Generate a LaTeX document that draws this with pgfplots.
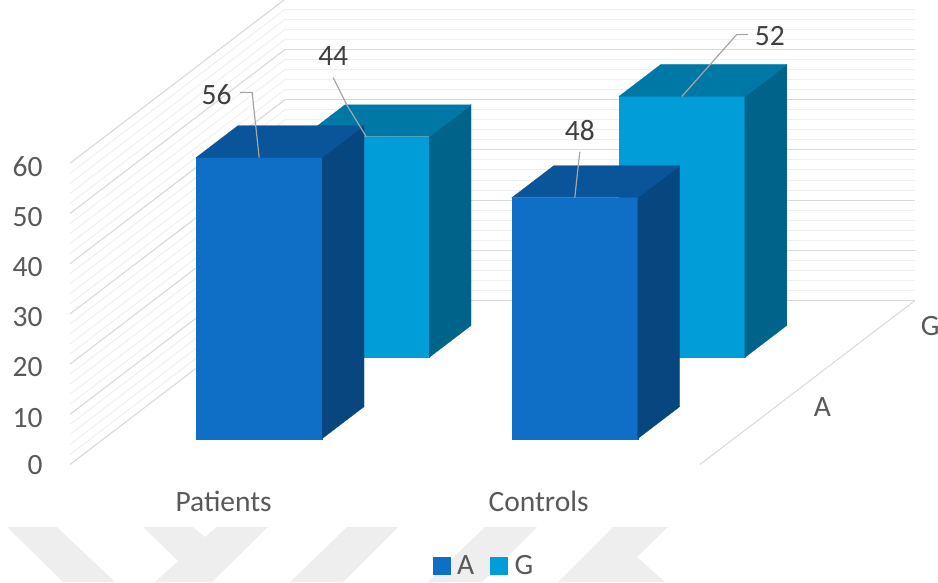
\documentclass[border=0pt]{standalone}
\usepackage{fontspec}
\setmainfont{Carlito}
\usepackage{pgfplots}
\pgfplotsset{compat=1.18}

\definecolor{barAfront}{HTML}{0F6FC6}
\definecolor{barAtop}{HTML}{0A5499}
\definecolor{barAside}{HTML}{084680}
\definecolor{barGfront}{HTML}{009DD9}
\definecolor{barGtop}{HTML}{0078A6}
\definecolor{barGside}{HTML}{00648A}
\definecolor{axistext}{HTML}{595959}
\definecolor{valuetext}{HTML}{404040}
\definecolor{leader}{HTML}{A6A6A6}
\definecolor{marktint}{HTML}{EEEEEE}

% One 3D column: x0, x1, y0, y1, value, series letter
\newcommand{\column}[6]{%
  \addplot3[forget plot, draw=bar#6front, line width=.2pt, fill=bar#6front]
    coordinates {(#1,#3,0) (#2,#3,0) (#2,#3,#5) (#1,#3,#5)} -- cycle;
  \addplot3[forget plot, draw=bar#6side, line width=.2pt, fill=bar#6side]
    coordinates {(#2,#3,0) (#2,#4,0) (#2,#4,#5) (#2,#3,#5)} -- cycle;
  \addplot3[forget plot, draw=bar#6top, line width=.2pt, fill=bar#6top]
    coordinates {(#1,#3,#5) (#2,#3,#5) (#2,#4,#5) (#1,#4,#5)} -- cycle;
}
\tikzset{valuelabel/.style={text=valuetext, font=\fontsize{29.5}{30}\selectfont, inner sep=0pt},
         leaderline/.style={draw=leader, line width=1.2pt}}

\begin{document}
\begin{tikzpicture}[x=1pt,y=1pt]
\useasboundingbox (0,0) rectangle (938,582);

% Pale emblem strip along the bottom edge
\fill[marktint] (7,55) -- (57,55) -- (115,0) -- (63,0) -- cycle;
\fill[marktint] (143,55) -- (193,55) -- (205,45) -- (217,55) -- (268,55)
  -- (212,0) -- (155,0) -- (178,21) -- cycle;
\fill[marktint] (347,55) -- (398,55) -- (343,0) -- (290,0) -- cycle;
\fill[marktint] (485,55) -- (537,55) -- (482,0) -- (428,0) -- cycle;
\fill[marktint] (613,55) -- (668,55) -- (637,25) -- (665,0) -- (558,0) -- cycle;

\begin{axis}[
  at={(70pt,117.5pt)}, anchor=origin,
  x={(3.15pt,0pt)}, y={(1.075pt,0.82pt)}, z={(0pt,5.02pt)},
  xmin=0, xmax=200, ymin=0, ymax=200, zmin=0, zmax=60,
  clip=false,
  axis line style={draw=none},
  tick style={draw=none},
  major tick length=0pt,
  xtick={50,150}, xticklabels={Patients,Controls},
  ytick={50,150}, yticklabels={A,G},
  ztick={0,10,...,60},
  minor z tick num=4,
  xmajorgrids=false, ymajorgrids=false,
  zmajorgrids=true, zminorgrids=true,
  major z grid style={draw=black!15, line width=1.1pt},
  minor z grid style={draw=black!6, line width=1pt},
  every tick label/.append style={font=\fontsize{29.5}{30}\selectfont, text=axistext},
  xticklabel style={xshift=3pt, yshift=-23pt},
  yticklabel style={xshift=56pt, yshift=29pt},
  zticklabel style={xshift=-24pt, yshift=3pt},
  /pgf/number format/assume math mode=true,
  legend style={draw=none, fill=none, legend columns=2,
    font=\fontsize{29.5}{30}\selectfont, text=axistext,
    at={(0.5,-0.2)}, anchor=center, xshift=-8.5pt, yshift=-8.5pt,
    /tikz/every even column/.append style={column sep=14pt},
    /tikz/every odd column/.append style={column sep=5pt}},
]
  % Floor edge on the right-hand side
  \addplot3[forget plot, draw=black!15, line width=1pt] coordinates {(200,0,0) (200,200,0)};

  % Back row first so that the front row covers it
  \column{29.5}{69.5}{130.5}{169.5}{44}{G}
  \column{129.7}{169.7}{130.5}{169.5}{52}{G}
  \column{29.3}{69.3}{31.5}{70.5}{56}{A}
  \column{129.5}{169.5}{31.5}{70.5}{48}{A}

  % Value labels with their leader lines
  \draw[leaderline] (axis cs:49.3,31.5,56) -- ++(-7pt,65pt) -- ++(-12pt,0pt);
  \node[valuelabel, xshift=-42.5pt, yshift=62.5pt] at (axis cs:49.3,31.5,56) {56};
  \draw[leaderline] (axis cs:49.5,130.5,44) -- ++(-19pt,31pt) -- ++(-14pt,28pt);
  \node[valuelabel, xshift=-33pt, yshift=81pt] at (axis cs:49.5,130.5,44) {44};
  \draw[leaderline] (axis cs:149.5,31.5,48) -- ++(5pt,46pt);
  \node[valuelabel, xshift=5pt, yshift=67pt] at (axis cs:149.5,31.5,48) {48};
  \draw[leaderline] (axis cs:149.7,130.5,52) -- ++(55pt,62pt) -- ++(11pt,0pt);
  \node[valuelabel, xshift=88pt, yshift=60pt] at (axis cs:149.7,130.5,52) {52};

  \addlegendimage{legend image code/.code={\fill[barAfront] (0pt,-8.5pt) rectangle (17pt,8.5pt);}}
  \addlegendimage{legend image code/.code={\fill[barGfront] (0pt,-8.5pt) rectangle (17pt,8.5pt);}}
  \legend{A,G}
\end{axis}
\end{tikzpicture}
\end{document}
